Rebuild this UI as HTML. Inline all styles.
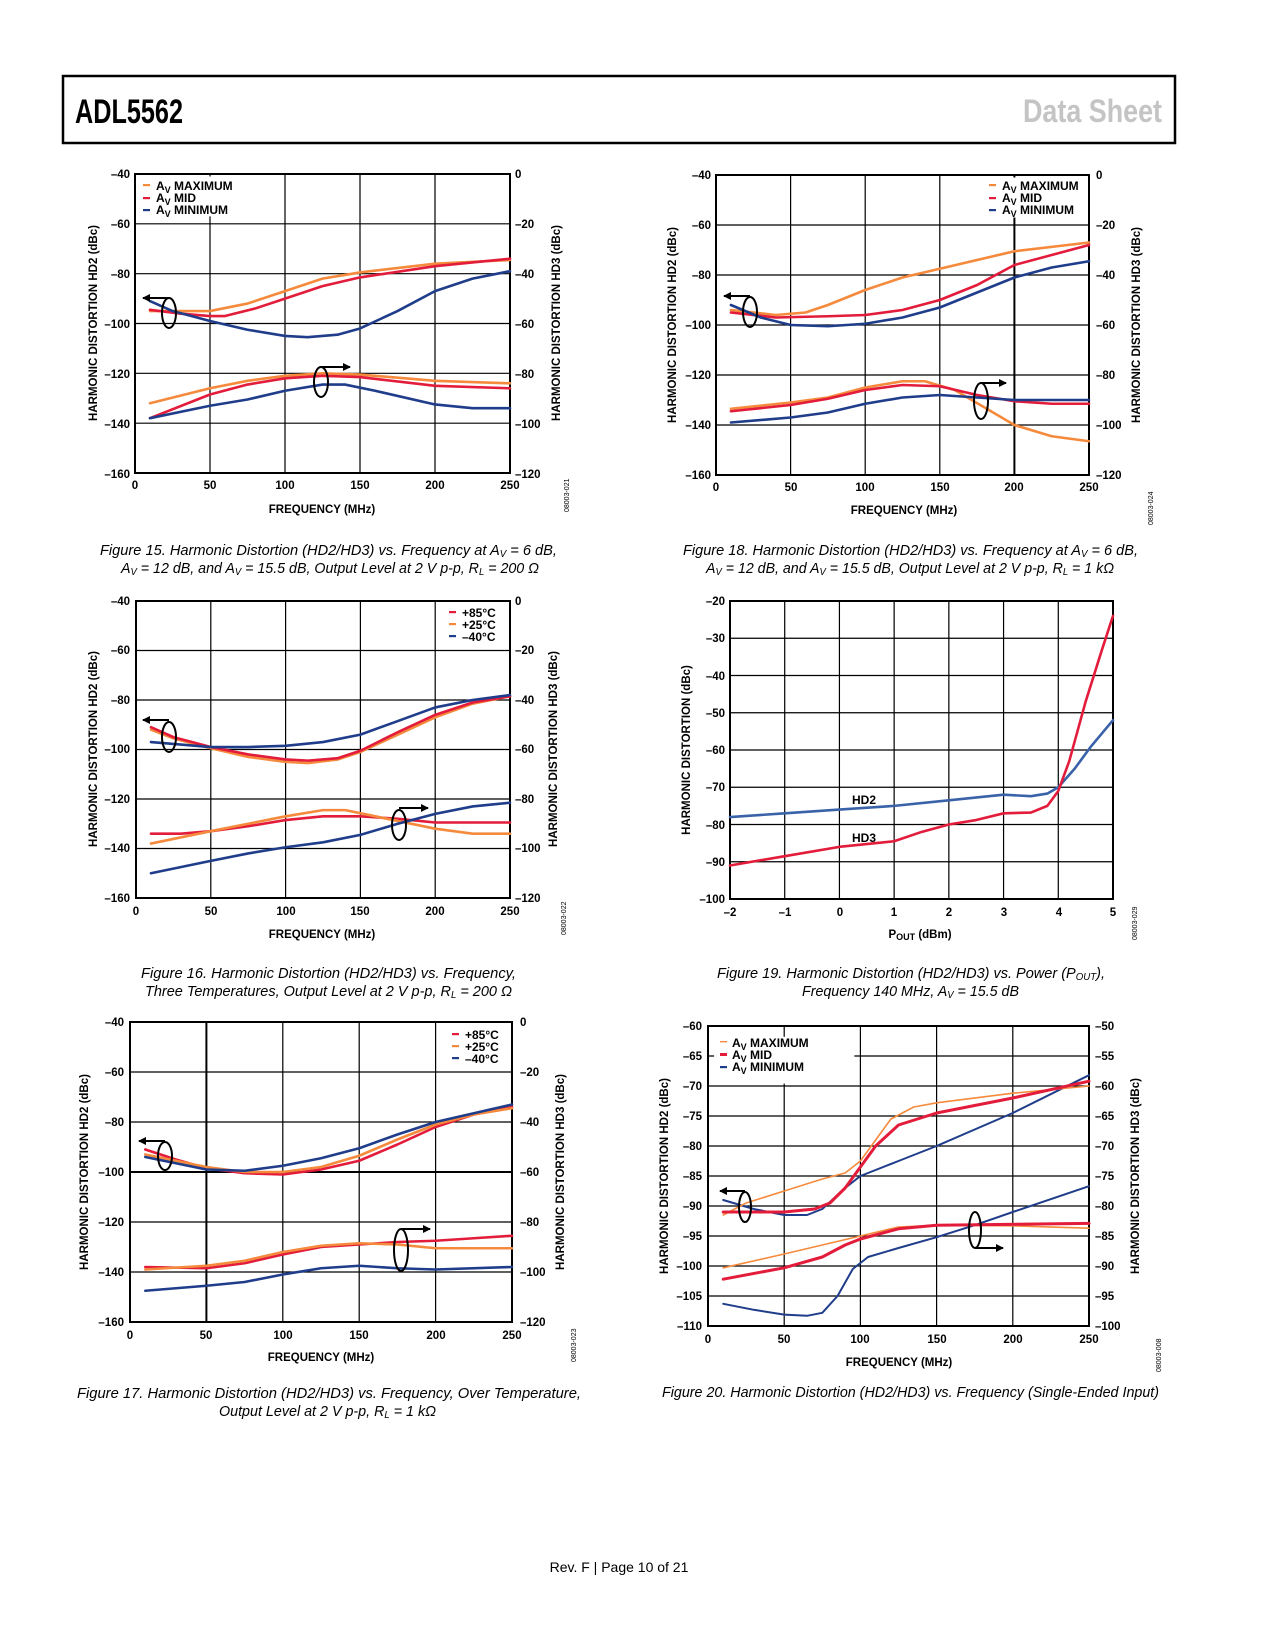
<!DOCTYPE html>
<html><head><meta charset="utf-8"><style>
html,body{margin:0;padding:0;background:#fff}
svg{display:block}
text{font-family:"Liberation Sans",sans-serif}
.t{font-size:11.5px;font-weight:bold;fill:#000}
.at{font-size:11.5px;font-weight:bold;fill:#000}
.lg{font-size:12px;font-weight:bold;fill:#000}
.cap{font-size:15px;font-style:italic;fill:#000}
.id{font-size:7px;fill:#000}
.g{stroke:#000;stroke-width:1.2;vector-effect:non-scaling-stroke;fill:none}
.fr{stroke:#000;stroke-width:2;vector-effect:non-scaling-stroke;fill:none}
.c{fill:none;stroke-width:2.6;vector-effect:non-scaling-stroke;stroke-linejoin:round;stroke-linecap:round}
.o{stroke:#f58a3c}.r{stroke:#e21c3a}.b{stroke:#1f3d8a}
.e{fill:none;stroke:#000;stroke-width:2}
</style></head><body>
<svg width="1275" height="1650" viewBox="0 0 1275 1650" xmlns="http://www.w3.org/2000/svg">
<defs><marker id="ah" markerWidth="8" markerHeight="8" refX="7" refY="4" orient="auto" markerUnits="userSpaceOnUse"><path d="M0,0 L8,4 L0,8 z" fill="#000"/></marker></defs>
<!-- header -->
<rect x="63" y="76" width="1112" height="67" fill="none" stroke="#000" stroke-width="2.5"/>
<text x="75" y="123" font-size="34" font-weight="bold" textLength="108" lengthAdjust="spacingAndGlyphs">ADL5562</text>
<text x="1023" y="122" font-size="32" font-weight="bold" fill="#c4c4c4" textLength="139" lengthAdjust="spacingAndGlyphs">Data Sheet</text>

<!-- ============ CHART 1 ============ -->
<svg x="135" y="174" width="375" height="299" viewBox="0 40 250 120" preserveAspectRatio="none" overflow="visible">
<path class="g" d="M50 40V160M100 40V160M150 40V160M200 40V160M0 60H250M0 80H250M0 100H250M0 120H250M0 140H250"/>
<rect x="3" y="41" width="62" height="16" fill="#fff"/>
<rect class="fr" x="0" y="40" width="250" height="120"/>
<polyline class="c o" points="10,95 50,95 75,92 100,87 125,82 150,79.5 200,76 250,74.5"/>
<polyline class="c r" points="10,94.5 30,96 50,97 60,97 80,94 100,90 125,85 150,81.5 200,77 250,74"/>
<polyline class="c b" points="10,91 25,95 50,99 75,102.5 100,105 115,105.5 135,104.5 150,102 175,95 200,87 225,82 250,79"/>
<polyline class="c o" points="10,132 50,126 75,123 100,121 125,120 150,120.5 200,123 250,124"/>
<polyline class="c r" points="10,138 50,128.5 75,124.5 100,122 125,121 150,121.5 200,125 250,126"/>
<polyline class="c b" points="10,138 50,133 75,130.5 100,127 125,124.5 140,124.5 160,127 200,132.5 225,134 250,134"/>
</svg>
<ellipse class="e" cx="169" cy="313" rx="7" ry="15"/><line x1="169" y1="298" x2="143" y2="298" stroke="#000" stroke-width="2" marker-end="url(#ah)"/>
<ellipse class="e" cx="321" cy="382" rx="7" ry="15"/><line x1="321" y1="367" x2="350" y2="367" stroke="#000" stroke-width="2" marker-end="url(#ah)"/>
<g class="t" text-anchor="end"><text x="130" y="178">–40</text><text x="130" y="228">–60</text><text x="130" y="278">–80</text><text x="130" y="328">–100</text><text x="130" y="378">–120</text><text x="130" y="428">–140</text><text x="130" y="478">–160</text></g>
<g class="t"><text x="515" y="178">0</text><text x="515" y="228">–20</text><text x="515" y="278">–40</text><text x="515" y="328">–60</text><text x="515" y="378">–80</text><text x="515" y="428">–100</text><text x="515" y="478">–120</text></g>
<g class="t" text-anchor="middle"><text x="135" y="489">0</text><text x="210" y="489">50</text><text x="285" y="489">100</text><text x="360" y="489">150</text><text x="435" y="489">200</text><text x="510" y="489">250</text></g>
<text class="at" x="322" y="513" text-anchor="middle">FREQUENCY (MHz)</text>
<text class="at" transform="translate(97,323) rotate(-90)" text-anchor="middle">HARMONIC DISTORTION HD2 (dBc)</text>
<text class="at" transform="translate(560,323) rotate(-90)" text-anchor="middle">HARMONIC DISTORTION HD3 (dBc)</text>
<text class="id" transform="translate(569,512) rotate(-90)">08003-021</text>
<g><rect x="143" y="184" width="7" height="2.2" fill="#f58a3c"/><rect x="143" y="197" width="7" height="2.2" fill="#e21c3a"/><rect x="143" y="209" width="7" height="2.2" fill="#1f3d8a"/>
<text class="lg" x="156" y="190">A<tspan font-size="9" dy="3">V</tspan><tspan dy="-3"> MAXIMUM</tspan></text>
<text class="lg" x="156" y="202">A<tspan font-size="9" dy="3">V</tspan><tspan dy="-3"> MID</tspan></text>
<text class="lg" x="156" y="214">A<tspan font-size="9" dy="3">V</tspan><tspan dy="-3"> MINIMUM</tspan></text></g>
<text class="cap" x="100" y="555" textLength="457" lengthAdjust="spacingAndGlyphs">Figure 15. Harmonic Distortion (HD2/HD3) vs. Frequency at A<tspan font-size="10" dy="2">V</tspan><tspan dy="-2"> = 6 dB,</tspan></text>
<text class="cap" x="121" y="573" textLength="418" lengthAdjust="spacingAndGlyphs">A<tspan font-size="10" dy="2">V</tspan><tspan dy="-2"> = 12 dB, and A</tspan><tspan font-size="10" dy="2">V</tspan><tspan dy="-2"> = 15.5 dB, Output Level at 2 V p-p, R</tspan><tspan font-size="10" dy="2">L</tspan><tspan dy="-2"> = 200 Ω</tspan></text>

<!-- ============ CHART 2 ============ -->
<svg x="136" y="601" width="374" height="297" viewBox="0 40 250 120" preserveAspectRatio="none" overflow="visible">
<path class="g" d="M50 40V160M100 40V160M150 40V160M200 40V160M0 60H250M0 80H250M0 100H250M0 120H250M0 140H250"/>
<rect class="fr" x="0" y="40" width="250" height="120"/>
<polyline class="c o" points="10,92 25,95.5 50,99.5 75,103 100,105 115,105.5 135,104 150,101 175,94 200,87 225,81.5 250,78.5"/>
<polyline class="c r" points="10,91 25,95 50,99 75,102 100,104 115,104.5 135,103.5 150,100.5 175,93 200,86 225,81 250,78.5"/>
<polyline class="c b" points="10,97 30,98 50,99 75,99 100,98.5 125,97 150,94 175,88.5 200,83 225,80 250,78"/>
<polyline class="c r" points="10,134 30,134 50,133 75,131 100,128.5 125,127 150,127 175,128 200,129.5 250,129.5"/>
<polyline class="c o" points="10,138 50,133 75,130 100,127 125,124.5 140,124.5 160,127 200,132 225,134 250,134"/>
<polyline class="c b" points="10,150 50,145 75,142 100,139.5 125,137.5 150,134.5 175,130 200,126 225,123 250,121.5"/>
</svg>
<ellipse class="e" cx="169" cy="737" rx="7" ry="15"/><line x1="169" y1="720" x2="143" y2="720" stroke="#000" stroke-width="2" marker-end="url(#ah)"/>
<ellipse class="e" cx="399" cy="825" rx="7" ry="15"/><line x1="399" y1="808" x2="428" y2="808" stroke="#000" stroke-width="2" marker-end="url(#ah)"/>
<g class="t" text-anchor="end"><text x="130" y="605">–40</text><text x="130" y="654">–60</text><text x="130" y="704">–80</text><text x="130" y="753">–100</text><text x="130" y="803">–120</text><text x="130" y="852">–140</text><text x="130" y="902">–160</text></g>
<g class="t"><text x="515" y="605">0</text><text x="515" y="654">–20</text><text x="515" y="704">–40</text><text x="515" y="753">–60</text><text x="515" y="803">–80</text><text x="515" y="852">–100</text><text x="515" y="902">–120</text></g>
<g class="t" text-anchor="middle"><text x="136" y="915">0</text><text x="211" y="915">50</text><text x="286" y="915">100</text><text x="360" y="915">150</text><text x="435" y="915">200</text><text x="510" y="915">250</text></g>
<text class="at" x="322" y="938" text-anchor="middle">FREQUENCY (MHz)</text>
<text class="at" transform="translate(97,749) rotate(-90)" text-anchor="middle">HARMONIC DISTORTION HD2 (dBc)</text>
<text class="at" transform="translate(557,749) rotate(-90)" text-anchor="middle">HARMONIC DISTORTION HD3 (dBc)</text>
<text class="id" transform="translate(566,935) rotate(-90)">08003-022</text>
<g><rect x="449" y="611" width="7" height="2.2" fill="#e21c3a"/><rect x="449" y="623" width="7" height="2.2" fill="#f58a3c"/><rect x="449" y="635" width="7" height="2.2" fill="#1f3d8a"/>
<text class="lg" x="462" y="617">+85°C</text><text class="lg" x="462" y="629">+25°C</text><text class="lg" x="462" y="641">–40°C</text></g>
<text class="cap" x="141" y="978" textLength="375" lengthAdjust="spacingAndGlyphs">Figure 16. Harmonic Distortion (HD2/HD3) vs. Frequency,</text>
<text class="cap" x="145" y="996" textLength="367" lengthAdjust="spacingAndGlyphs">Three Temperatures, Output Level at 2 V p-p, R<tspan font-size="10" dy="2">L</tspan><tspan dy="-2"> = 200 Ω</tspan></text>

<!-- ============ CHART 3 ============ -->
<svg x="130" y="1022" width="382" height="300" viewBox="0 40 250 120" preserveAspectRatio="none" overflow="visible">
<path class="g" d="M100 40V160M150 40V160M200 40V160M0 60H250M0 80H250M0 120H250M0 140H250"/>
<path class="fr" d="M50 40V160M0 100H250"/>
<rect class="fr" x="0" y="40" width="250" height="120"/>
<polyline class="c r" points="10,91 30,95 50,98.5 75,100.5 100,101 125,99 150,95.5 175,89 200,82 225,77 250,74"/>
<polyline class="c o" points="10,93 50,98 75,100 100,100 125,98 150,93.5 175,87 200,81 225,77 250,74.5"/>
<polyline class="c b" points="10,94 30,96.5 50,99 75,99.5 100,97.5 125,94.5 150,90.5 175,85 200,80 225,76.5 250,73"/>
<polyline class="c r" points="10,138 50,138.5 75,136.5 100,133 125,130 150,129 175,128 200,127.5 225,126.5 250,125.5"/>
<polyline class="c o" points="10,139 50,137.5 75,135.5 100,132 125,129.5 150,128.5 175,129 200,130.5 250,130.5"/>
<polyline class="c b" points="10,147.5 50,145.5 75,144 100,141 125,138.5 150,137.5 175,138.5 200,139 250,138"/>
</svg>
<ellipse class="e" cx="165" cy="1156" rx="7" ry="14"/><line x1="165" y1="1141" x2="139" y2="1141" stroke="#000" stroke-width="2" marker-end="url(#ah)"/>
<ellipse class="e" cx="401" cy="1250" rx="7" ry="21"/><line x1="401" y1="1229" x2="430" y2="1229" stroke="#000" stroke-width="2" marker-end="url(#ah)"/>
<g class="t" text-anchor="end"><text x="124" y="1026">–40</text><text x="124" y="1076">–60</text><text x="124" y="1126">–80</text><text x="124" y="1176">–100</text><text x="124" y="1226">–120</text><text x="124" y="1276">–140</text><text x="124" y="1326">–160</text></g>
<g class="t"><text x="520" y="1026">0</text><text x="520" y="1076">–20</text><text x="520" y="1126">–40</text><text x="520" y="1176">–60</text><text x="520" y="1226">–80</text><text x="520" y="1276">–100</text><text x="520" y="1326">–120</text></g>
<g class="t" text-anchor="middle"><text x="130" y="1339">0</text><text x="206" y="1339">50</text><text x="283" y="1339">100</text><text x="359" y="1339">150</text><text x="436" y="1339">200</text><text x="512" y="1339">250</text></g>
<text class="at" x="321" y="1361" text-anchor="middle">FREQUENCY (MHz)</text>
<text class="at" transform="translate(88,1172) rotate(-90)" text-anchor="middle">HARMONIC DISTORTION HD2 (dBc)</text>
<text class="at" transform="translate(564,1172) rotate(-90)" text-anchor="middle">HARMONIC DISTORTION HD3 (dBc)</text>
<text class="id" transform="translate(576,1362) rotate(-90)">08003-023</text>
<g><rect x="452" y="1033" width="7" height="2.2" fill="#e21c3a"/><rect x="452" y="1045" width="7" height="2.2" fill="#f58a3c"/><rect x="452" y="1057" width="7" height="2.2" fill="#1f3d8a"/>
<text class="lg" x="465" y="1039">+85°C</text><text class="lg" x="465" y="1051">+25°C</text><text class="lg" x="465" y="1063">–40°C</text></g>
<text class="cap" x="77" y="1398" textLength="504" lengthAdjust="spacingAndGlyphs">Figure 17. Harmonic Distortion (HD2/HD3) vs. Frequency, Over Temperature,</text>
<text class="cap" x="219" y="1416" textLength="217" lengthAdjust="spacingAndGlyphs">Output Level at 2 V p-p, R<tspan font-size="10" dy="2">L</tspan><tspan dy="-2"> = 1 kΩ</tspan></text>

<!-- ============ CHART 4 ============ -->
<svg x="716" y="175" width="373" height="300" viewBox="0 40 250 120" preserveAspectRatio="none" overflow="visible">
<path class="g" d="M50 40V160M100 40V160M150 40V160M0 60H250M0 80H250M0 100H250M0 120H250M0 140H250"/>
<path class="fr" d="M200 40V160"/>
<rect x="180" y="41" width="68" height="16" fill="#fff"/>
<rect class="fr" x="0" y="40" width="250" height="120"/>
<polyline class="c o" points="10,94 40,96 60,95 75,92 100,86 125,81 150,77.5 200,70.5 250,67"/>
<polyline class="c r" points="10,95 40,97 75,96.5 100,96 125,94 150,90 175,84 200,76 250,68"/>
<polyline class="c b" points="10,92 30,97 50,100 75,100.5 100,99.5 125,97 150,93 175,87 200,81 225,77 250,74.5"/>
<polyline class="c o" points="10,133.5 50,131 75,129 100,125 125,122.5 140,122.5 160,126 180,133 200,140 225,144.5 250,146.5"/>
<polyline class="c r" points="10,134.5 50,132 75,129.5 100,126 125,124 150,124.5 175,128 200,130.5 225,131.5 250,131.5"/>
<polyline class="c b" points="10,139 50,137 75,135 100,131.5 125,129 150,128 175,129 200,130 250,130"/>
</svg>
<ellipse class="e" cx="750" cy="312" rx="7" ry="15"/><line x1="750" y1="296" x2="724" y2="296" stroke="#000" stroke-width="2" marker-end="url(#ah)"/>
<ellipse class="e" cx="981" cy="401" rx="7" ry="18"/><line x1="981" y1="383" x2="1006" y2="383" stroke="#000" stroke-width="2" marker-end="url(#ah)"/>
<g class="t" text-anchor="end"><text x="711" y="179">–40</text><text x="711" y="229">–60</text><text x="711" y="279">–80</text><text x="711" y="329">–100</text><text x="711" y="379">–120</text><text x="711" y="429">–140</text><text x="711" y="479">–160</text></g>
<g class="t"><text x="1096" y="179">0</text><text x="1096" y="229">–20</text><text x="1096" y="279">–40</text><text x="1096" y="329">–60</text><text x="1096" y="379">–80</text><text x="1096" y="429">–100</text><text x="1096" y="479">–120</text></g>
<g class="t" text-anchor="middle"><text x="716" y="491">0</text><text x="791" y="491">50</text><text x="865" y="491">100</text><text x="940" y="491">150</text><text x="1014" y="491">200</text><text x="1089" y="491">250</text></g>
<text class="at" x="904" y="514" text-anchor="middle">FREQUENCY (MHz)</text>
<text class="at" transform="translate(676,325) rotate(-90)" text-anchor="middle">HARMONIC DISTORTION HD2 (dBc)</text>
<text class="at" transform="translate(1140,325) rotate(-90)" text-anchor="middle">HARMONIC DISTORTION HD3 (dBc)</text>
<text class="id" transform="translate(1153,525) rotate(-90)">08003-024</text>
<g><rect x="989" y="184" width="7" height="2.2" fill="#f58a3c"/><rect x="989" y="197" width="7" height="2.2" fill="#e21c3a"/><rect x="989" y="209" width="7" height="2.2" fill="#1f3d8a"/>
<text class="lg" x="1002" y="190">A<tspan font-size="9" dy="3">V</tspan><tspan dy="-3"> MAXIMUM</tspan></text>
<text class="lg" x="1002" y="202">A<tspan font-size="9" dy="3">V</tspan><tspan dy="-3"> MID</tspan></text>
<text class="lg" x="1002" y="214">A<tspan font-size="9" dy="3">V</tspan><tspan dy="-3"> MINIMUM</tspan></text></g>
<text class="cap" x="683" y="555" textLength="455" lengthAdjust="spacingAndGlyphs">Figure 18. Harmonic Distortion (HD2/HD3) vs. Frequency at A<tspan font-size="10" dy="2">V</tspan><tspan dy="-2"> = 6 dB,</tspan></text>
<text class="cap" x="706" y="573" textLength="408" lengthAdjust="spacingAndGlyphs">A<tspan font-size="10" dy="2">V</tspan><tspan dy="-2"> = 12 dB, and A</tspan><tspan font-size="10" dy="2">V</tspan><tspan dy="-2"> = 15.5 dB, Output Level at 2 V p-p, R</tspan><tspan font-size="10" dy="2">L</tspan><tspan dy="-2"> = 1 kΩ</tspan></text>

<!-- ============ CHART 5 ============ -->
<svg x="730" y="601" width="383" height="298" viewBox="-2 20 7 80" preserveAspectRatio="none" overflow="visible">
<path class="g" d="M-1 20V100M0 20V100M1 20V100M2 20V100M3 20V100M4 20V100M-2 30H5M-2 40H5M-2 50H5M-2 60H5M-2 70H5M-2 80H5M-2 90H5"/>
<rect class="fr" x="-2" y="20" width="7" height="80"/>
<polyline class="c" stroke="#3a62a8" points="-2,78 -1,77 0,76 1,75 2,73.5 3,72 3.5,72.4 3.8,71.7 4,70 4.3,65 4.6,59 5,52"/>
<polyline class="c r" points="-2,91 -1,88.5 0,86 1,84.5 1.5,82 2,80 2.5,78.8 3,77 3.5,76.8 3.8,75 4,71 4.2,63 4.5,47 4.8,33 5,24"/>
</svg>
<text class="lg" x="852" y="804">HD2</text><text class="lg" x="852" y="842">HD3</text>
<g class="t" text-anchor="end"><text x="725" y="605">–20</text><text x="725" y="642">–30</text><text x="725" y="680">–40</text><text x="725" y="717">–50</text><text x="725" y="754">–60</text><text x="725" y="791">–70</text><text x="725" y="829">–80</text><text x="725" y="866">–90</text><text x="725" y="903">–100</text></g>
<g class="t" text-anchor="middle"><text x="730" y="916">–2</text><text x="785" y="916">–1</text><text x="840" y="916">0</text><text x="894" y="916">1</text><text x="949" y="916">2</text><text x="1004" y="916">3</text><text x="1059" y="916">4</text><text x="1113" y="916">5</text></g>
<text class="at" x="920" y="938" text-anchor="middle">P<tspan font-size="9" dy="2">OUT</tspan><tspan dy="-2"> (dBm)</tspan></text>
<text class="at" transform="translate(690,750) rotate(-90)" text-anchor="middle">HARMONIC DISTORTION (dBc)</text>
<text class="id" transform="translate(1137,940) rotate(-90)">08003-029</text>
<text class="cap" x="717" y="978" textLength="388" lengthAdjust="spacingAndGlyphs">Figure 19. Harmonic Distortion (HD2/HD3) vs. Power (P<tspan font-size="10" dy="2">OUT</tspan><tspan dy="-2">),</tspan></text>
<text class="cap" x="802" y="996" textLength="217" lengthAdjust="spacingAndGlyphs">Frequency 140 MHz, A<tspan font-size="10" dy="2">V</tspan><tspan dy="-2"> = 15.5 dB</tspan></text>

<!-- ============ CHART 6 ============ -->
<svg x="708" y="1026" width="381" height="300" viewBox="0 60 250 50" preserveAspectRatio="none" overflow="visible">
<path class="g" d="M50 60V110M100 60V110M150 60V110M200 60V110M0 65H250M0 70H250M0 75H250M0 80H250M0 85H250M0 90H250M0 95H250M0 100H250M0 105H250"/>
<rect x="4" y="61.8" width="92" height="7.8" fill="#fff"/>
<rect class="fr" x="0" y="60" width="250" height="50"/>
<polyline class="c b" style="stroke-width:2" points="10,89 30,90.5 50,91.5 65,91.5 75,90.5 90,87 100,85 125,82.5 150,80 200,74.5 250,68.2"/>
<polyline class="c o" style="stroke-width:1.6" points="10,91.5 25,89.5 50,87.5 75,85.5 90,84.5 100,82.5 110,79 120,75.5 135,73.5 150,72.8 200,71.2 250,70"/>
<polyline class="c r" style="stroke-width:3" points="10,91 50,91 70,90.5 80,89.5 90,87 100,83.5 110,80 125,76.5 150,74.5 200,72 250,69.2"/>
<polyline class="c b" style="stroke-width:2" points="10,106.3 30,107.3 50,108.1 65,108.3 75,107.8 85,105 95,100.5 105,98.5 125,97 150,95.2 175,93.2 200,91 250,86.7"/>
<polyline class="c o" style="stroke-width:1.6" points="10,100.3 50,98 100,95 125,93.5 150,93.2 200,93.3 250,93.7"/>
<polyline class="c r" style="stroke-width:3" points="10,102.2 50,100.3 75,98.5 90,96.5 100,95.5 125,93.8 150,93.2 250,92.9"/>
</svg>
<ellipse class="e" cx="745" cy="1207" rx="6" ry="15"/><line x1="745" y1="1191" x2="720" y2="1191" stroke="#000" stroke-width="2" marker-end="url(#ah)"/>
<ellipse class="e" cx="975" cy="1230" rx="6" ry="18"/><line x1="975" y1="1248" x2="1003" y2="1248" stroke="#000" stroke-width="2" marker-end="url(#ah)"/>
<g class="t" text-anchor="end"><text x="702" y="1030">–60</text><text x="702" y="1060">–65</text><text x="702" y="1090">–70</text><text x="702" y="1120">–75</text><text x="702" y="1150">–80</text><text x="702" y="1180">–85</text><text x="702" y="1210">–90</text><text x="702" y="1240">–95</text><text x="702" y="1270">–100</text><text x="702" y="1300">–105</text><text x="702" y="1330">–110</text></g>
<g class="t"><text x="1095" y="1030">–50</text><text x="1095" y="1060">–55</text><text x="1095" y="1090">–60</text><text x="1095" y="1120">–65</text><text x="1095" y="1150">–70</text><text x="1095" y="1180">–75</text><text x="1095" y="1210">–80</text><text x="1095" y="1240">–85</text><text x="1095" y="1270">–90</text><text x="1095" y="1300">–95</text><text x="1095" y="1330">–100</text></g>
<g class="t" text-anchor="middle"><text x="708" y="1343">0</text><text x="784" y="1343">50</text><text x="860" y="1343">100</text><text x="937" y="1343">150</text><text x="1013" y="1343">200</text><text x="1089" y="1343">250</text></g>
<text class="at" x="899" y="1366" text-anchor="middle">FREQUENCY (MHz)</text>
<text class="at" transform="translate(668,1176) rotate(-90)" text-anchor="middle">HARMONIC DISTORTION HD2 (dBc)</text>
<text class="at" transform="translate(1139,1176) rotate(-90)" text-anchor="middle">HARMONIC DISTORTION HD3 (dBc)</text>
<text class="id" transform="translate(1161,1372) rotate(-90)">08003-008</text>
<g><rect x="720" y="1041" width="7" height="1.4" fill="#f58a3c"/><rect x="720" y="1053" width="7" height="3" fill="#e21c3a"/><rect x="720" y="1066" width="7" height="2.2" fill="#1f3d8a"/>
<text class="lg" x="732" y="1047">A<tspan font-size="9" dy="3">V</tspan><tspan dy="-3"> MAXIMUM</tspan></text>
<text class="lg" x="732" y="1059">A<tspan font-size="9" dy="3">V</tspan><tspan dy="-3"> MID</tspan></text>
<text class="lg" x="732" y="1071">A<tspan font-size="9" dy="3">V</tspan><tspan dy="-3"> MINIMUM</tspan></text></g>
<text class="cap" x="662" y="1397" textLength="497" lengthAdjust="spacingAndGlyphs">Figure 20. Harmonic Distortion (HD2/HD3) vs. Frequency (Single-Ended Input)</text>

<text x="619" y="1572" text-anchor="middle" font-size="14" fill="#000">Rev. F | Page 10 of 21</text>
</svg>
</body></html>
